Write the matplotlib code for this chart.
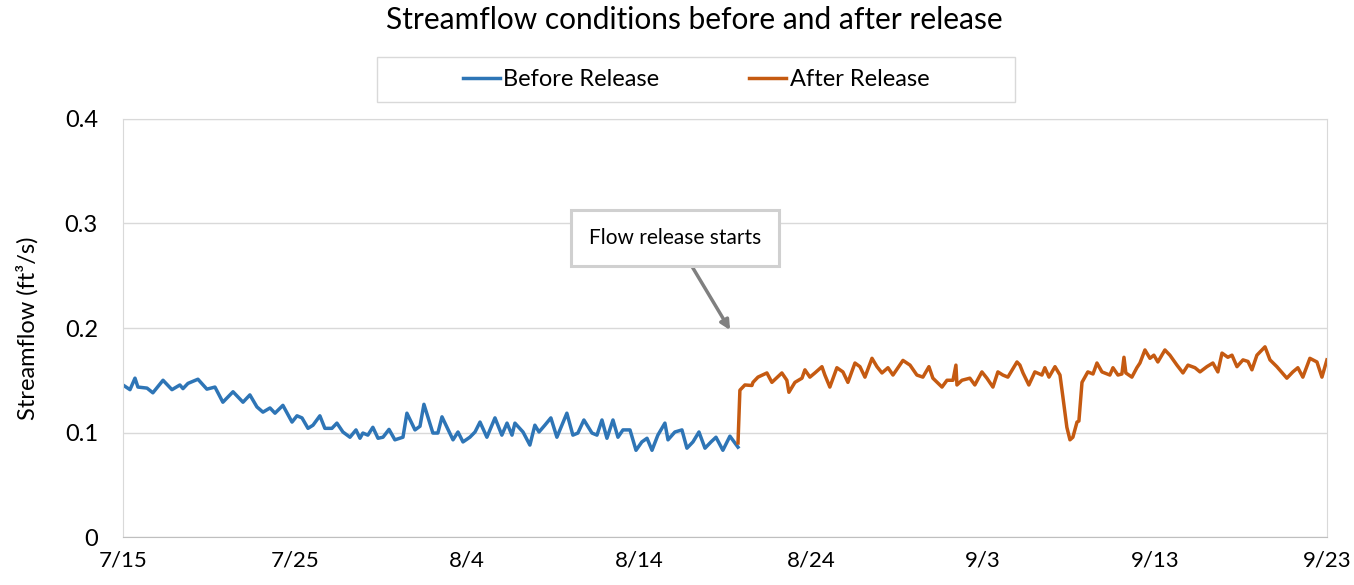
import matplotlib
matplotlib.use("Agg")
import matplotlib.pyplot as plt
from matplotlib.patches import Rectangle

plt.rcParams['font.family'] = ['Lato', 'DejaVu Sans']

# days since 7/15
before_day = [0.0, 0.41, 0.70, 0.87, 1.40, 1.74, 2.33, 2.85, 3.31, 3.49, 3.78, 4.36, 4.88, 5.35,
              5.81, 6.40, 6.98, 7.38, 7.79, 8.14, 8.55, 8.84, 9.30, 9.83, 10.12, 10.41, 10.76,
              11.05, 11.45, 11.74, 12.15, 12.44, 12.79, 13.20, 13.55, 13.78, 13.95, 14.24, 14.53,
              14.83, 15.12, 15.47, 15.81, 16.28, 16.51, 16.98, 17.27, 17.50, 18.02, 18.31, 18.55,
              18.84, 19.19, 19.48, 19.77, 20.17, 20.47, 20.76, 21.16, 21.63, 22.03, 22.33, 22.62,
              22.79, 23.26, 23.66, 23.95, 24.19, 24.53, 24.88, 25.23, 25.52, 25.81, 26.16, 26.45,
              26.80, 27.27, 27.56, 27.85, 28.14, 28.49, 28.78, 29.07, 29.48, 29.83, 30.17, 30.47,
              30.76, 31.10, 31.51, 31.69, 32.09, 32.50, 32.79, 33.14, 33.49, 33.84, 34.19, 34.48,
              34.88, 35.29, 35.76]
before_flow = [0.1455, 0.141, 0.152, 0.1435, 0.1425, 0.138, 0.150, 0.141, 0.1455, 0.142, 0.147,
               0.151, 0.1415, 0.1435, 0.129, 0.139, 0.129, 0.136, 0.1245, 0.1195, 0.1235, 0.1185,
               0.126, 0.110, 0.116, 0.114, 0.104, 0.107, 0.116, 0.104, 0.104, 0.109, 0.1005,
               0.0955, 0.1025, 0.0945, 0.0995, 0.0975, 0.105, 0.0945, 0.0955, 0.103, 0.093,
               0.0955, 0.1185, 0.1025, 0.106, 0.127, 0.0995, 0.0995, 0.115, 0.105, 0.093, 0.1005,
               0.091, 0.0955, 0.1005, 0.110, 0.0955, 0.114, 0.0975, 0.109, 0.0975, 0.109, 0.1005,
               0.088, 0.107, 0.1005, 0.107, 0.114, 0.0955, 0.107, 0.1185, 0.0975, 0.0995, 0.112,
               0.0995, 0.0975, 0.112, 0.0945, 0.112, 0.0955, 0.1025, 0.1025, 0.083, 0.091, 0.0945,
               0.083, 0.0975, 0.109, 0.093, 0.1005, 0.1025, 0.085, 0.091, 0.1005, 0.085, 0.091,
               0.0955, 0.083, 0.0965, 0.086]

after_day = [35.76, 35.87, 36.16, 36.57, 36.63, 36.92, 37.44, 37.73, 38.31, 38.60, 38.72, 39.07,
             39.48, 39.65, 39.94, 40.23, 40.64, 40.81, 41.10, 41.51, 41.86, 42.15, 42.56, 42.85,
             43.14, 43.55, 43.84, 44.13, 44.48, 44.77, 45.35, 45.76, 46.16, 46.51, 46.86, 47.09,
             47.62, 47.91, 48.26, 48.43, 48.49, 48.78, 49.24, 49.53, 49.94, 50.23, 50.58, 50.87,
             51.16, 51.45, 51.98, 52.15, 52.33, 52.67, 53.02, 53.43, 53.60, 53.84, 54.19, 54.48,
             54.65, 54.88, 55.06, 55.23, 55.47, 55.58, 55.76, 56.10, 56.40, 56.63, 56.92, 57.38,
             57.56, 57.85, 58.08, 58.20, 58.31, 58.66, 58.95, 59.13, 59.42, 59.71, 59.94, 60.17,
             60.58, 60.87, 61.28, 61.63, 61.92, 62.33, 62.62, 63.02, 63.37, 63.66, 63.90, 64.24,
             64.48, 64.77, 65.12, 65.41, 65.64, 65.93, 66.40, 66.69, 67.09, 67.67, 68.02, 68.31,
             68.60, 69.01, 69.42, 69.71, 70.00]
after_flow = [0.090, 0.1405, 0.1455, 0.145, 0.148, 0.153, 0.157, 0.148, 0.157, 0.150, 0.1385,
              0.148, 0.152, 0.160, 0.153, 0.157, 0.163, 0.155, 0.1435, 0.162, 0.158, 0.148,
              0.1665, 0.163, 0.153, 0.171, 0.163, 0.157, 0.162, 0.155, 0.169, 0.1645, 0.155,
              0.153, 0.163, 0.152, 0.1435, 0.150, 0.150, 0.1645, 0.1455, 0.150, 0.152, 0.1455,
              0.158, 0.152, 0.1435, 0.158, 0.155, 0.153, 0.1675, 0.1645, 0.157, 0.1455, 0.158,
              0.155, 0.162, 0.153, 0.163, 0.155, 0.134, 0.105, 0.093, 0.0955, 0.110, 0.111,
              0.148, 0.158, 0.156, 0.1665, 0.158, 0.155, 0.162, 0.155, 0.156, 0.172, 0.157,
              0.153, 0.162, 0.1665, 0.179, 0.171, 0.174, 0.1675, 0.179, 0.174, 0.1645, 0.157,
              0.1645, 0.162, 0.158, 0.163, 0.1665, 0.158, 0.176, 0.172, 0.174, 0.163, 0.1695,
              0.168, 0.160, 0.174, 0.182, 0.1695, 0.163, 0.152, 0.158, 0.162, 0.153, 0.171,
              0.1675, 0.153, 0.1695]

tick_days = [0, 10, 20, 30, 40, 50, 60, 70]
tick_labels = ["7/15", "7/25", "8/4", "8/14", "8/24", "9/3", "9/13", "9/23"]
y_ticks = [0, 0.1, 0.2, 0.3, 0.4]
y_labels = ["0", "0.1", "0.2", "0.3", "0.4"]

fig = plt.figure(figsize=(13.54, 5.85), dpi=100)
ax = fig.add_axes([0.0908, 0.082, 0.8892, 0.7146])

ax.plot(before_day, before_flow, color="#2e75b6", lw=2.5, label="Before Release")
ax.plot(after_day, after_flow, color="#c55a11", lw=2.5, label="After Release")

ax.set_xlim(0, 70)
ax.set_ylim(0, 0.4)
ax.set_xticks(tick_days)
ax.set_xticklabels(tick_labels)
ax.set_yticks(y_ticks)
ax.set_yticklabels(y_labels)
ax.tick_params(axis="x", length=0, labelsize=16, pad=10)
ax.tick_params(axis="y", length=0, labelsize=17, pad=18)
ax.grid(axis="y", color="#d9d9d9", lw=1)
ax.set_axisbelow(True)
for s in ax.spines.values():
    s.set_color("#d9d9d9")
ax.spines["bottom"].set_color("#bfbfbf")

ax.set_ylabel("Streamflow (ft³/s)", fontsize=17)
ax.yaxis.set_label_coords(-0.07, 0.5)

fig.suptitle("Streamflow conditions before and after release", fontsize=21.5,
             x=0.513, y=0.99)

# legend box drawn separately, it is much wider than the entries
fig.patches.append(Rectangle((0.2784, 0.8256), 0.4712, 0.0769, transform=fig.transFigure,
                             fc="white", ec="#d9d9d9", lw=1, zorder=-1))
handles, labels = ax.get_legend_handles_labels()
leg = fig.legend(handles, labels, loc="center", bbox_to_anchor=(0.514, 0.864),
                 ncol=2, fontsize=17, frameon=False, handlelength=1.57,
                 handletextpad=0.15, columnspacing=3.8, borderaxespad=0)
leg.set_zorder(5)

ax.annotate("Flow release starts", xy=(35.3, 0.198), xytext=(32.1, 0.286),
            ha="center", va="center", fontsize=15,
            bbox=dict(boxstyle="square,pad=0.85", fc="white", ec="#d0d0d0", lw=2.2),
            arrowprops=dict(arrowstyle="-|>", color="#808080", lw=2.5, mutation_scale=14,
                            shrinkA=0, shrinkB=0))

fig.savefig("out.png", dpi=100)
